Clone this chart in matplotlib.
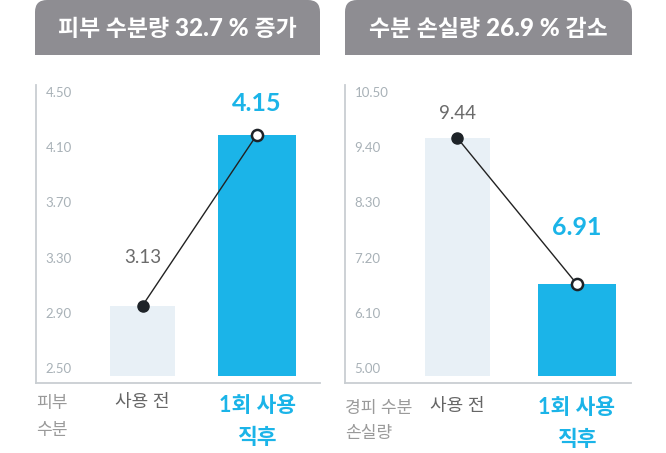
import matplotlib
matplotlib.use("Agg")
import matplotlib.pyplot as plt
from matplotlib.patches import FancyBboxPatch, Rectangle
from matplotlib.transforms import ScaledTranslation
from matplotlib.offsetbox import TextArea, HPacker, AnnotationBbox

plt.rcParams['font.family'] = ['Lato', 'Noto Sans CJK KR', 'DejaVu Sans']

# ---------------- data ----------------
categories = ["사용 전", "1회 사용\n직후"]

left_title = ["피부 수분량 ", "32.7 %", " 증가"]
left_axis_label = "피부\n수분"
left_ticks = [2.50, 2.90, 3.30, 3.70, 4.10, 4.50]
left_tick_labels = ["2.50", "2.90", "3.30", "3.70", "4.10", "4.50"]
left_values = [3.01, 4.25]            # bar heights as drawn against the axis
left_value_labels = ["3.13", "4.15"]  # printed values

right_title = ["수분 손실량 ", "26.9 %", " 감소"]
right_axis_label = "경피 수분\n손실량"
right_ticks = [5.00, 6.10, 7.20, 8.30, 9.40, 10.50]
right_tick_labels = ["5.00", "6.10", "7.20", "8.30", "9.40", "10.50"]
right_values = [9.74, 6.83]
right_value_labels = ["9.44", "6.91"]

# ---------------- style ----------------
W, H = 666, 453
DPI = 100
BLUE = "#1bb4e8"
PALE = "#e8f0f6"
GRAY_BOX = "#8e8d92"
SPINE = "#c9ced2"
TICK_C = "#a8b1b7"

fig = plt.figure(figsize=(W / DPI, H / DPI), dpi=DPI)

# overlay axes in pixel coordinates for decorations
bg = fig.add_axes([0, 0, 1, 1])
bg.set_xlim(0, W)
bg.set_ylim(H, 0)
bg.axis("off")


def title_box(x0, x1, y1, parts):
    r = 12
    bg.add_patch(FancyBboxPatch((x0 + r, 0 + r), (x1 - x0) - 2 * r, y1 - 2 * r,
                                boxstyle=f"round,pad={r}", fc=GRAY_BOX, ec="none",
                                mutation_aspect=1))
    bg.add_patch(Rectangle((x0, y1 - r - 1), x1 - x0, r + 1, fc=GRAY_BOX, ec="none"))
    weights = ["bold", "black", "bold"]
    sizes = [16.5, 17.5, 16.5]
    areas = [TextArea(p, textprops=dict(color="white", fontsize=s, fontweight=w))
             for p, w, s in zip(parts, weights, sizes)]
    pack = HPacker(children=areas, align="baseline", sep=0, pad=0)
    ab = AnnotationBbox(pack, ((x0 + x1) / 2, y1 / 2 + 1), xycoords=bg.transData,
                        frameon=False, box_alignment=(0.5, 0.5), pad=0)
    bg.add_artist(ab)


def panel(px0, px1, ylim, xlim, widths, ticks, tick_labels, values,
          value_labels, label_offsets, title, box, axis_label, label_y, cat_y, cat2_y):
    top, bottom = 85, 383
    ax = fig.add_axes([px0 / W, (H - bottom) / H, (px1 - px0) / W, (bottom - top) / H])
    ax.set_ylim(*ylim)
    ax.set_xlim(*xlim)
    x = list(range(len(values)))
    base = ticks[0]
    ax.bar(x, [v - base for v in values], bottom=base, width=widths,
           color=[PALE, BLUE], zorder=1)
    ax.plot(x, values, color="#222222", lw=1.0, zorder=2)
    ax.plot(x[0], values[0], "o", ms=8, mfc="#1e2328", mec="#1e2328", zorder=3)
    ax.plot(x[1], values[1], "o", ms=8, mfc="white", mec="#1e2328", mew=1.8, zorder=3)
    for i, (xi, v, lab) in enumerate(zip(x, values, value_labels)):
        if i == 0:
            ax.annotate(lab, (xi, v), xytext=(0, label_offsets[i]), textcoords="offset pixels",
                        ha="center", va="center", fontsize=13.5, color="#6b6b6b")
        else:
            ax.annotate(lab, (xi, v), xytext=(0, label_offsets[i]), textcoords="offset pixels",
                        ha="center", va="center", fontsize=18, color=BLUE, fontweight="bold")
    ax.set_yticks(ticks)
    ax.set_yticklabels(tick_labels)
    ax.tick_params(axis="y", length=0, pad=-7, labelsize=9.5, labelcolor=TICK_C)
    for lab in ax.get_yticklabels():
        lab.set_horizontalalignment("left")
        lab.set_transform(lab.get_transform() + ScaledTranslation(0, 8 / DPI, fig.dpi_scale_trans))
    ax.set_xticks([])
    for s in ["top", "right"]:
        ax.spines[s].set_visible(False)
    for s in ["left", "bottom"]:
        ax.spines[s].set_color(SPINE)
        ax.spines[s].set_linewidth(1.3)
    ax.set_facecolor("none")

    title_box(box[0], box[1], box[2], title)

    # bottom labels
    lines = axis_label.split("\n")
    for j, line in enumerate(lines):
        bg.text(px0, label_y[j], line, ha="left", va="center", fontsize=12.3,
                color="#9a9a9a")
    disp = ax.transData
    for i, cat in enumerate(categories):
        xp = disp.transform((x[i], 0))[0] / fig.dpi * DPI
        if i == 0:
            bg.text(xp, cat_y, cat, ha="center", va="center", fontsize=13,
                    color="#666666")
        else:
            for j, line in enumerate(cat.split("\n")):
                bg.text(xp, cat2_y[j], line, ha="center", va="center", fontsize=15.5,
                        color=BLUE, fontweight="bold")


panel(36, 320, (2.449, 4.609), (-0.930, 1.550), [0.568, 0.681],
      left_ticks, left_tick_labels, left_values, left_value_labels, (48, 31),
      left_title, (35, 320, 55), left_axis_label, (403, 430), 402, (405, 438))
panel(345, 631, (4.861, 10.799), (-0.941, 1.452), [0.544, 0.653],
      right_ticks, right_tick_labels, right_values, right_value_labels, (25, 57),
      right_title, (345, 632, 55), right_axis_label, (408, 433), 406, (407, 440))

fig.savefig("out.png", dpi=DPI)
